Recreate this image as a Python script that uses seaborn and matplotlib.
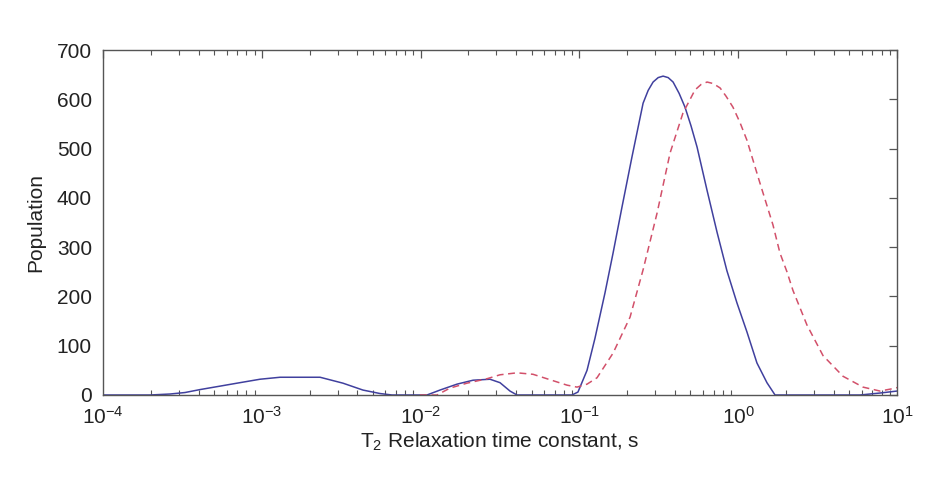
import numpy as np
import pandas as pd
import matplotlib
matplotlib.use("Agg")
import matplotlib.pyplot as plt
import seaborn as sns
from matplotlib.ticker import LogLocator, FixedLocator

# ---- data (log10 of T2 in seconds, population) ----
blue_log10_t2 = [-4.000, -3.704, -3.578, -3.484, -3.389, -3.263, -3.156, -3.011, -2.885, -2.633,
                 -2.489, -2.363, -2.256, -2.180, -1.960, -1.878, -1.771, -1.670, -1.563, -1.500,
                 -1.437, -1.393, -1.047, -1.009, -0.952, -0.902, -0.839, -0.788, -0.732, -0.669,
                 -0.599, -0.567, -0.536, -0.504, -0.473, -0.441, -0.410, -0.372, -0.335, -0.297,
                 -0.259, -0.196, -0.133, -0.071, -0.008, 0.055, 0.118, 0.181, 0.232, 0.767,
                 0.893, 1.000]
blue_population = [0, 0, 2, 5, 11, 18, 24, 32, 36, 36,
                   24, 10, 3, 0, 0, 10, 22, 30, 32, 25,
                   8, 0, 0, 6, 50, 115, 207, 288, 381, 483,
                   592, 618, 635, 644, 647, 644, 635, 612, 584, 546,
                   503, 415, 330, 252, 187, 128, 65, 25, 0, 0,
                   4, 8]

red_log10_t2 = [-2.004, -1.897, -1.815, -1.708, -1.582, -1.500, -1.393, -1.292, -1.185, -1.078,
                -1.015, -0.952, -0.889, -0.788, -0.681, -0.599, -0.511, -0.429, -0.348, -0.272,
                -0.234, -0.196, -0.158, -0.114, -0.076, -0.033, 0.011, 0.055, 0.137, 0.219,
                0.263, 0.307, 0.345, 0.433, 0.534, 0.660, 0.786, 0.893, 0.975, 1.000]
red_population = [0, 0, 14, 24, 33, 41, 45, 42, 31, 20,
                  16, 22, 35, 85, 158, 254, 369, 491, 572, 619,
                  630, 635, 632, 623, 606, 584, 553, 517, 430, 345,
                  288, 250, 212, 142, 80, 38, 16, 8, 13, 15]

x_ticks = [1e-4, 1e-3, 1e-2, 1e-1, 1e0, 1e1]
y_ticks = [0, 100, 200, 300, 400, 500, 600, 700]

blue_df = pd.DataFrame({"T2": 10.0 ** np.array(blue_log10_t2), "Population": blue_population})
red_df = pd.DataFrame({"T2": 10.0 ** np.array(red_log10_t2), "Population": red_population})

# ---- style ----
sns.set_theme(style="white")
plt.rcParams["font.family"] = ["Liberation Sans", "DejaVu Sans"]
plt.rcParams["mathtext.fontset"] = "custom"
plt.rcParams["mathtext.rm"] = "Liberation Sans"
plt.rcParams["mathtext.it"] = "Liberation Sans:italic"

fig = plt.figure(figsize=(9.25, 4.78), dpi=100)
ax = fig.add_axes([103 / 925, 1 - 395 / 478, (897 - 103) / 925, (395 - 50) / 478])

sns.lineplot(data=blue_df, x="T2", y="Population", ax=ax, color="#40409e",
             linewidth=1.1, sort=False, estimator=None)
sns.lineplot(data=red_df, x="T2", y="Population", ax=ax, color="#d2506a",
             linewidth=1.1, sort=False, estimator=None)
ax.lines[-1].set_linestyle((0, (4.5, 3)))

ax.set_xscale("log")
ax.set_xlim(1e-4, 1e1)
ax.set_ylim(0, 700)
ax.xaxis.set_major_locator(FixedLocator(x_ticks))
ax.xaxis.set_minor_locator(LogLocator(base=10, subs=np.arange(2, 10), numticks=20))
ax.yaxis.set_major_locator(FixedLocator(y_ticks))
ax.set_yticklabels([str(v) for v in y_ticks])

for side in ["top", "bottom", "left", "right"]:
    ax.spines[side].set_visible(True)
    ax.spines[side].set_color("#555555")
    ax.spines[side].set_linewidth(1.0)

ax.tick_params(axis="both", which="major", direction="in", length=6, width=0.9,
               color="#555555", top=True, right=True, labelsize=15, labelcolor="#222222")
ax.tick_params(axis="x", which="major", pad=8)
ax.tick_params(axis="y", which="major", pad=8)
ax.tick_params(axis="x", which="minor", direction="in", length=3.5, width=0.8,
               color="#555555", top=True, bottom=True)

ax.set_xlabel("T$_2$ Relaxation time constant, s", fontsize=15, color="#222222", labelpad=2)
ax.set_ylabel("Population", fontsize=15, color="#222222", labelpad=8)
ax.grid(False)

fig.savefig("out.png", dpi=100, facecolor="white")
